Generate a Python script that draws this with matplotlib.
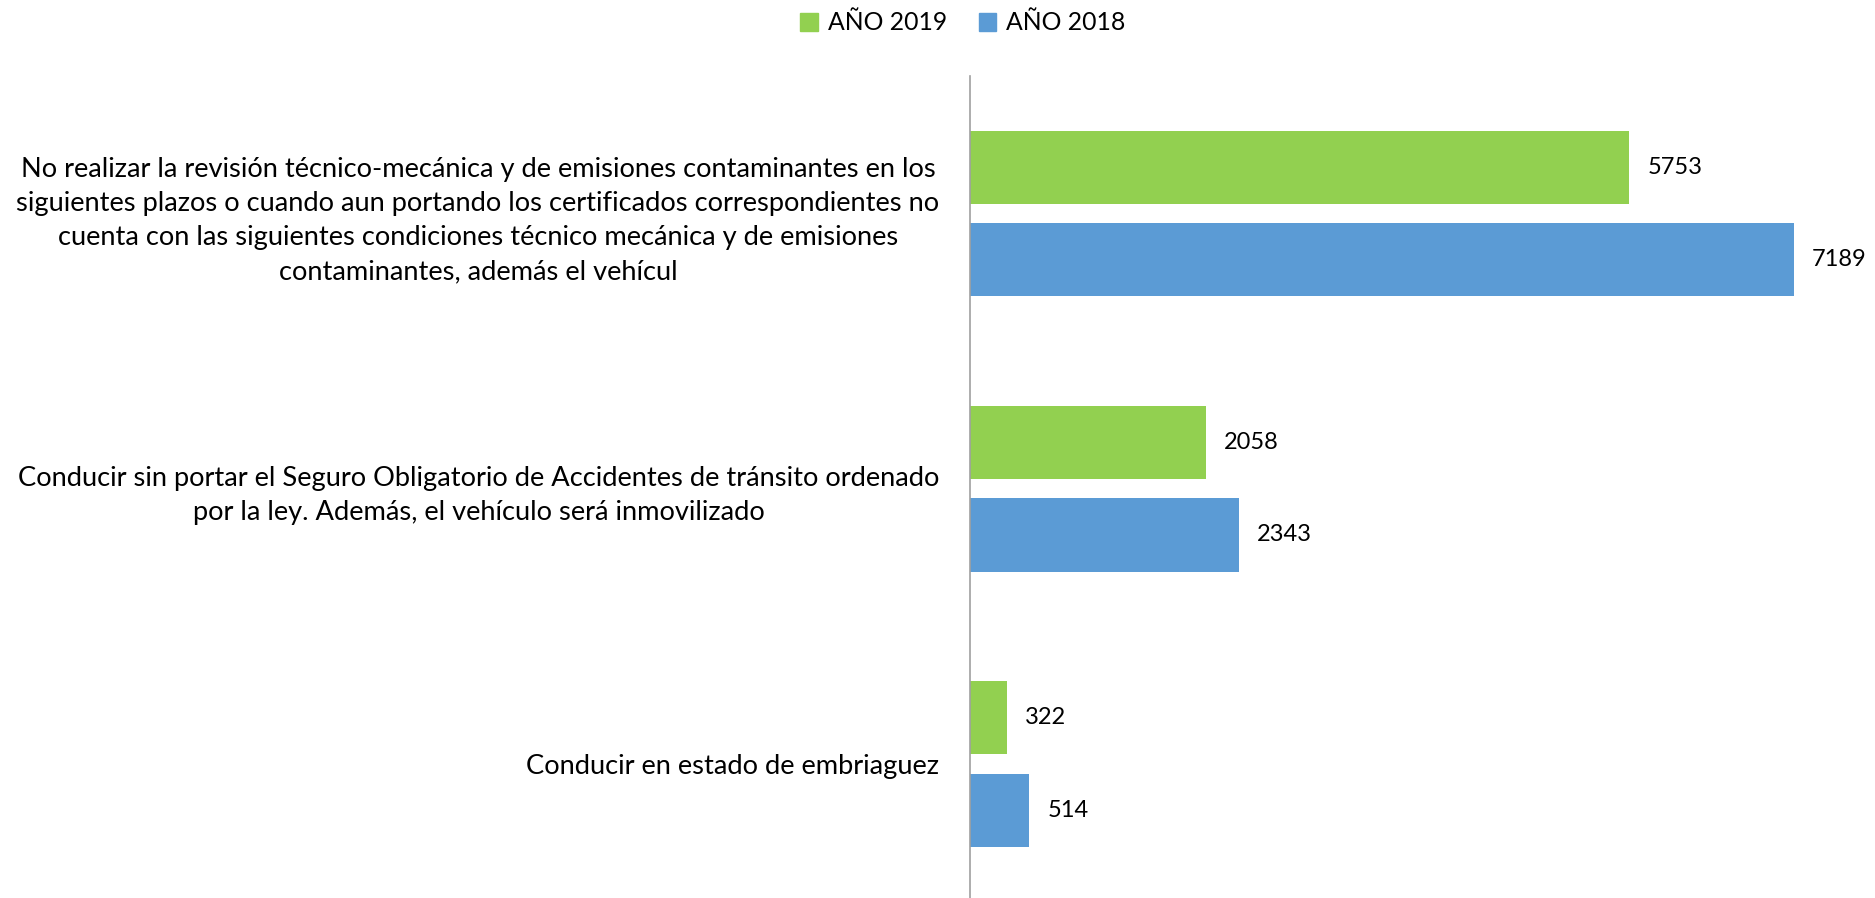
import numpy as np
import matplotlib
matplotlib.use('Agg')
import matplotlib.pyplot as plt
from matplotlib.patches import Patch

plt.rcParams['font.family'] = ['Lato', 'DejaVu Sans']

# ── Data ──────────────────────────────────────────────────────────────────────
categories = [
    'No realizar la revisión técnico-mecánica y de emisiones contaminantes en los\n'
    'siguientes plazos o cuando aun portando los certificados correspondientes no\n'
    'cuenta con las siguientes condiciones técnico mecánica y de emisiones\n'
    'contaminantes, además el vehícul',
    'Conducir sin portar el Seguro Obligatorio de Accidentes de tránsito ordenado\n'
    'por la ley. Además, el vehículo será inmovilizado',
    'Conducir en estado de embriaguez',
]
series_names = ['AÑO 2019', 'AÑO 2018']
values_2019 = [5753, 2058, 322]
values_2018 = [7189, 2343, 514]

GREEN = '#92D050'
BLUE = '#5B9BD5'

# ── Plot ──────────────────────────────────────────────────────────────────────
fig = plt.figure(figsize=(18.75, 8.98), dpi=100)
ax = fig.add_axes([970 / 1875, -3.5 / 898, 1 - 970 / 1875, (898 - 76 + 3.5) / 898])

y = np.arange(len(categories))
h = 0.266
off = 0.168
ax.barh(y - off, values_2019, height=h, color=GREEN)
ax.barh(y + off, values_2018, height=h, color=BLUE)

for yi, v in zip(y - off, values_2019):
    ax.text(v + 160, yi, str(v), va='center', ha='left', fontsize=17)
for yi, v in zip(y + off, values_2018):
    ax.text(v + 160, yi, str(v), va='center', ha='left', fontsize=17)

ax.set_xlim(0, 7897)
ax.set_ylim(2.5, -0.5)
ax.set_xticks([])
ax.set_yticks(y)
ax.set_yticklabels(categories, fontsize=19.6, multialignment='center', linespacing=1.45)
ax.tick_params(axis='y', length=0, pad=22)

for s in ['top', 'right', 'bottom']:
    ax.spines[s].set_visible(False)
ax.spines['left'].set_color('#A0A0A0')
ax.spines['left'].set_linewidth(1.2)

handles = [Patch(color=GREEN), Patch(color=BLUE)]
fig.legend(handles, series_names, loc='center', bbox_to_anchor=(963 / 1875, 1 - 23 / 898),
           ncol=2, frameon=False, fontsize=17.8, handlelength=0.7, handleheight=0.7,
           handletextpad=0.4, columnspacing=1.3)

fig.savefig('out.png', dpi=100)
